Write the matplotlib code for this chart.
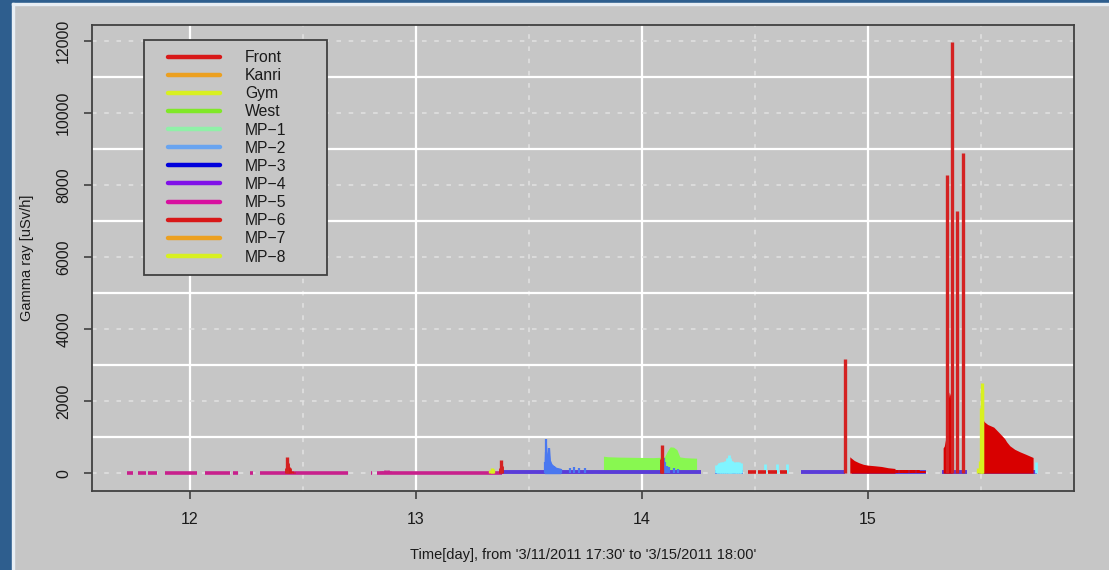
import numpy as np
import matplotlib
matplotlib.use("Agg")
import matplotlib.pyplot as plt
from matplotlib.patches import Rectangle
from matplotlib.lines import Line2D

plt.rcParams['font.family'] = ['Liberation Sans', 'DejaVu Sans']

# ---------------- legend ----------------
legend_labels = ['Front', 'Kanri', 'Gym', 'West', 'MP\u22121', 'MP\u22122', 'MP\u22123',
                 'MP\u22124', 'MP\u22125', 'MP\u22126', 'MP\u22127', 'MP\u22128']
legend_colors = ['#d81818', '#eca020', '#d8f020', '#80e828', '#90f0a8', '#68a4f0',
                 '#0000dc', '#8010e8', '#d810a0', '#d81818', '#eca020', '#d8f020']

x_ticks = [12, 13, 14, 15]
y_ticks = [0, 2000, 4000, 6000, 8000, 10000, 12000]
x_label = "Time[day], from '3/11/2011 17:30' to '3/15/2011 18:00'"
y_label = "Gamma ray [uSv/h]"

# ---------------- data ----------------
# near-zero background readings (MP-5, magenta) : segments with data
mp5_seg_start = [11.720, 11.771, 11.815, 11.889, 12.066, 12.192, 12.265, 12.310, 12.802, 12.826]
mp5_seg_end   = [11.749, 11.808, 11.853, 12.030, 12.177, 12.214, 12.280, 12.700, 12.806, 13.380]
mp5_level = 15
mp5_bump_t = [12.845, 12.855, 12.865, 12.875, 12.885, 12.895]
mp5_bump_v = [50, 70, 85, 80, 65, 45]

# MP-4 (purple) low-level segments
mp4_seg_start = [13.380, 14.322, 14.705, 14.930, 15.330, 15.488]
mp4_seg_end   = [14.262, 14.448, 14.900, 15.255, 15.440, 15.748]
mp4_level = 45

# Front (red)
front_spike_t = [12.431, 13.376, 14.087, 14.897, 15.348, 15.370, 15.395, 15.422]
front_spike_v = [435, 360, 777, 3154, 8266, 11964, 7276, 8868]
front_small_t = [12.425, 12.435, 12.440, 12.445, 12.450, 12.460, 13.372, 13.380, 14.084, 14.090]
front_small_v = [130, 280, 170, 130, 70, 40, 150, 200, 400, 500]
front_dash_start = [14.470, 14.515, 14.560, 14.610]
front_dash_end   = [14.505, 14.550, 14.600, 14.640]
front_dash_level = 20
front_decay1_t = [14.920, 14.926, 14.940, 14.960, 14.980, 15.000, 15.030, 15.060, 15.090, 15.120]
front_decay1_v = [455, 420, 350, 290, 245, 222, 205, 185, 150, 130]
front_dots_t = [15.130, 15.145, 15.160, 15.175, 15.190, 15.205, 15.220, 15.235, 15.250]
front_dots_v = [90, 85, 85, 80, 80, 75, 75, 70, 70]
front_burst_t = [15.333, 15.338, 15.344, 15.350, 15.355, 15.360, 15.365, 15.370, 15.373]
front_burst_v = [700, 750, 950, 1500, 2000, 2250, 2150, 1200, 300]
front_decay2_t = [15.510, 15.516, 15.530, 15.557, 15.584, 15.605, 15.614, 15.628, 15.650, 15.673, 15.700, 15.731]
front_decay2_v = [1470, 1420, 1350, 1276, 1101, 960, 868, 760, 660, 591, 520, 435]

# Gym (yellow)
gym_t = [13.330, 13.335, 13.340, 15.488, 15.494, 15.500, 15.503, 15.506]
gym_v = [100, 147, 120, 150, 350, 1800, 2488, 2300]

# West (green) block
west_t = [13.830, 13.850, 13.900, 13.950, 14.000, 14.050, 14.080, 14.100, 14.112, 14.125, 14.140, 14.155, 14.168, 14.190, 14.220, 14.242]
west_v = [470, 455, 445, 440, 435, 430, 440, 450, 600, 730, 720, 650, 450, 430, 420, 415]

# MP-2 (blue)
mp2_t = [13.570, 13.574, 13.578, 13.582, 13.586, 13.589, 13.593, 13.600, 13.610, 13.620, 13.640,
         13.680, 13.700, 13.720, 13.750, 14.098, 14.102, 14.110, 14.120, 14.140, 14.160]
mp2_v = [300, 934, 600, 420, 500, 685, 350, 250, 194, 150, 120,
         140, 160, 130, 150, 420, 300, 210, 160, 130, 110]

# extra cyan station (not in legend)
cyan_t = [14.330, 14.340, 14.350, 14.360, 14.370, 14.378, 14.384, 14.390, 14.400, 14.410, 14.420, 14.430, 14.440,
          14.544, 14.596, 14.640, 15.746]
cyan_v = [230, 290, 300, 310, 340, 430, 500, 420, 330, 300, 310, 300, 270,
          250, 260, 250, 320]

# ---------------- figure ----------------
bg = '#c6c6c6'
fig = plt.figure(figsize=(11.09, 5.70), dpi=100, facecolor=bg)
fig.add_artist(Rectangle((0, 0), 12/1109, 1, transform=fig.transFigure, color='#2e5e8e', zorder=0))
fig.add_artist(Rectangle((0, 1-3/570), 1, 3/570, transform=fig.transFigure, color='#2e5e8e', zorder=0))
fig.add_artist(Rectangle((12/1109, 0), 1.5/1109, 1-3/570, transform=fig.transFigure, color='#e8eef4', zorder=0))
fig.add_artist(Rectangle((12/1109, 1-4.5/570), 1-12/1109, 1.5/570, transform=fig.transFigure, color='#e8eef4', zorder=0))

ax = fig.add_axes([92/1109, 1-491/570, 982/1109, 466/570])
ax.set_facecolor(bg)
ax.set_xlim(11.567, 15.912)
ax.set_ylim(-495, 12430)

# grid
for x in x_ticks:
    ax.axvline(x, color='white', lw=1.6, zorder=0.5)
for x in [12.5, 13.5, 14.5, 15.5]:
    ax.axvline(x, color='#e2e2e2', lw=1.1, dashes=(3, 5), zorder=0.5)
for y in [1000, 3000, 5000, 7000, 9000, 11000]:
    ax.axhline(y, color='white', lw=1.6, zorder=0.5)
for y in y_ticks:
    ax.axhline(y, color='#e2e2e2', lw=1.1, dashes=(3, 5), zorder=0.5)

# data
ax.hlines([mp5_level]*len(mp5_seg_start), mp5_seg_start, mp5_seg_end, color='#c8208c', lw=2.6, zorder=2)
ax.vlines(mp5_bump_t, 0, mp5_bump_v, color='#c8208c', lw=2.0, zorder=2)

ax.fill_between(west_t, 0, west_v, color='#88f850', lw=0, zorder=2)
ax.hlines([mp4_level]*len(mp4_seg_start), mp4_seg_start, mp4_seg_end, color='#5a3cd8', lw=2.8, zorder=3)
ax.fill_between(mp2_t[:11], 0, mp2_v[:11], color='#4a78f0', lw=0.8, edgecolor='#4a78f0', zorder=3)
ax.vlines(mp2_t, 0, mp2_v, color='#4a78f0', lw=1.6, zorder=3)

ax.hlines([front_dash_level]*len(front_dash_start), front_dash_start, front_dash_end, color='#d81818', lw=2.6, zorder=3.5)
ax.vlines(front_small_t, 0, front_small_v, color='#d81818', lw=2.0, zorder=3)
ax.fill_between(front_decay1_t, 0, front_decay1_v, color='#d80000', lw=0, zorder=3)
ax.vlines(front_dots_t, 0, front_dots_v, color='#d80000', lw=2.6, zorder=3)
ax.fill_between(front_burst_t, 0, front_burst_v, color='#d80000', lw=0, zorder=3)
ax.fill_between(front_decay2_t, 0, front_decay2_v, color='#d80000', lw=0, zorder=3)
ax.vlines(front_spike_t, 0, front_spike_v, color='#d42222', lw=2.4, zorder=4)

ax.vlines(gym_t, 0, gym_v, color='#d8f020', lw=2.4, zorder=3.8)
ax.vlines(cyan_t, 0, cyan_v, color='#80f4ff', lw=2.0, zorder=3.2)
ax.fill_between(cyan_t[:13], 0, cyan_v[:13], color='#80f4ff', lw=0, zorder=3.2)

# axes style
for s in ax.spines.values():
    s.set_color('#404040')
    s.set_linewidth(1.3)
ax.set_xticks(x_ticks)
ax.set_xticklabels([str(v) for v in x_ticks])
ax.set_yticks(y_ticks)
ax.set_yticklabels([str(v) for v in y_ticks])
ax.tick_params(axis='both', direction='out', length=6, width=1.2, color='#404040',
               labelsize=11.5, labelcolor='#1a1a1a')
ax.tick_params(axis='x', pad=9)
ax.tick_params(axis='y', pad=9)
for lab in ax.get_yticklabels():
    lab.set_rotation(90)
    lab.set_va('center')
    lab.set_ha('right')

ax.set_xlabel(x_label, fontsize=10.5, color='#1a1a1a')
ax.xaxis.set_label_coords(0.5, -0.137)
ax.xaxis.label.set_va('center')
ax.set_ylabel(y_label, fontsize=10.5, color='#1a1a1a')
ax.yaxis.set_label_coords(-0.066, 0.5)
ax.yaxis.label.set_va('center')

# legend: frame drawn as rectangle, entries via legend
lx0, lx1 = (144-92)/982, (327-92)/982
ly0, ly1 = (491-275)/466, (491-40)/466
ax.add_patch(Rectangle((lx0, ly0), lx1-lx0, ly1-ly0, transform=ax.transAxes,
                       facecolor=bg, edgecolor='#404040', lw=1.3, zorder=5))
handles = [Line2D([0], [0], color=c, lw=3.2, solid_capstyle='round') for c in legend_colors]
leg = ax.legend(handles, legend_labels, loc='upper left',
                bbox_to_anchor=((168-92)/982, (491-50)/466),
                frameon=False, fontsize=11.3, labelspacing=0.2,
                handlelength=3.3, handletextpad=1.6, borderpad=0.0, borderaxespad=0.0)
leg.set_zorder(6)
for t in leg.get_texts():
    t.set_color('#1a1a1a')

fig.savefig('out.png', dpi=100, facecolor=bg)
